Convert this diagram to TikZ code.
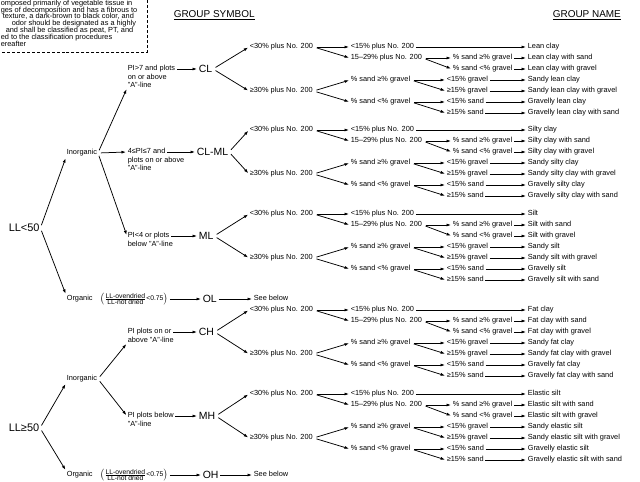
\documentclass[tikz,border=0pt]{standalone}
\usepackage{fontspec}
\setmainfont{Liberation Sans}
\usetikzlibrary{arrows.meta, positioning}

\tikzset{
  lbl/.style={anchor=west, inner sep=0.6bp, text height=5.4bp, text depth=1.5bp,
              font=\fontsize{7.4}{7.8}\selectfont},
  note/.style={anchor=north west, inner sep=0.6bp, align=left,
               font=\fontsize{7.4}{8}\selectfont},
  ratio/.style={anchor=west, inner sep=0.6bp, font=\fontsize{6.8}{7}\selectfont},
  sym/.style={anchor=west, inner sep=0.6bp, font=\fontsize{10.5}{11}\selectfont},
  llbl/.style={anchor=west, inner sep=0.6bp, font=\fontsize{11}{12}\selectfont},
  hdr/.style={anchor=west, inner sep=0.6bp, font=\fontsize{10}{11}\selectfont},
  arr/.style={-{Latex[length=4.5bp, width=3bp]}, line width=0.75bp,
              shorten <=1bp, shorten >=1bp},
  fork/.style={arr, shorten <=3bp}
}

% 30% and 15% splits with the seven group names of one symbol
\newcommand{\namegroup}[9]{%
  \node[lbl] (#1lo) at (249,#2)    {<30\% plus No. 200};
  \node[lbl] (#1hi) at (249,#2+44) {≥30\% plus No. 200};
  \node[lbl] (#1c1) at (350,#2)    {<15\% plus No. 200};
  \node[lbl] (#1c2) at (350,#2+11) {15--29\% plus No. 200};
  \node[lbl] (#1c4) at (350,#2+33) {\% sand ≥\% gravel};
  \node[lbl] (#1c6) at (350,#2+55) {\% sand <\% gravel};
  \node[lbl] (#1d2) at (452,#2+11) {\% sand ≥\% gravel};
  \node[lbl] (#1d3) at (452,#2+22) {\% sand <\% gravel};
  \node[lbl] (#1d4) at (446,#2+33) {<15\% gravel};
  \node[lbl] (#1d5) at (446,#2+44) {≥15\% gravel};
  \node[lbl] (#1d6) at (446,#2+55) {<15\% sand};
  \node[lbl] (#1d7) at (446,#2+66) {≥15\% sand};
  \node[lbl] (#1n1) at (527,#2)    {#3};
  \node[lbl] (#1n2) at (527,#2+11) {#4};
  \node[lbl] (#1n3) at (527,#2+22) {#5};
  \node[lbl] (#1n4) at (527,#2+33) {#6};
  \node[lbl] (#1n5) at (527,#2+44) {#7};
  \node[lbl] (#1n6) at (527,#2+55) {#8};
  \node[lbl] (#1n7) at (527,#2+66) {#9};
  \draw[fork] (#1lo.east) -- (#1c1.west);
  \draw[fork] (#1lo.east) -- (#1c2.west);
  \draw[fork] (#1hi.east) -- (#1c4.west);
  \draw[fork] (#1hi.east) -- (#1c6.west);
  \draw[fork] (#1c2.east) -- (#1d2.west);
  \draw[fork] (#1c2.east) -- (#1d3.west);
  \draw[fork] (#1c4.east) -- (#1d4.west);
  \draw[fork] (#1c4.east) -- (#1d5.west);
  \draw[fork] (#1c6.east) -- (#1d6.west);
  \draw[fork] (#1c6.east) -- (#1d7.west);
  \draw[arr] (#1c1.east) -- (#1n1.west);
  \draw[arr] (#1d2.east) -- (#1n2.west);
  \draw[arr] (#1d3.east) -- (#1n3.west);
  \draw[arr] (#1d4.east) -- (#1n4.west);
  \draw[arr] (#1d5.east) -- (#1n5.west);
  \draw[arr] (#1d6.east) -- (#1n6.west);
  \draw[arr] (#1d7.east) -- (#1n7.west);
}

\begin{document}
\begin{tikzpicture}[x=1bp, y=-1bp]

  \fill[white] (0,0) rectangle (640,482);
  \useasboundingbox (0,0) rectangle (640,482);

  %% peat note, cut at the left
  \node[lbl] (bx1) at (0,3.5)  {omposed primarily of vegetable tissue in};
  \node[lbl] (bx2) at (0,10.3) {ges of decomposition and has a fibrous to};
  \node[lbl] (bx3) at (2,17)   {texture, a dark-brown to black color, and};
  \node[lbl] (bx4) at (11,24)  {odor should be designated as a highly};
  \node[lbl] (bx5) at (5,31)   {and shall be classified as peat, PT, and};
  \node[lbl] (bx6) at (0,38)   {ed to the classification procedures};
  \node[lbl] (bx7) at (0,44.5) {ereafter};
  \draw[densely dashed, line width=0.8bp] (147,0) -- (147,52) -- (0,52);

  %% headings
  \node[hdr] (hsym)  at (173,15) {\underline{GROUP SYMBOL}};
  \node[hdr] (hname) at (552,15) {\underline{GROUP NAME}};

  %% liquid limit
  \node[llbl] (ll1) at (8,228) {LL<50};
  \node[llbl] (ll2) at (8,428) {LL≥50};

  \node[lbl] (inorg1) at (66,153) {Inorganic};
  \node[lbl] (org1)   at (66,299) {Organic};
  \node[lbl] (inorg2) at (66,379) {Inorganic};
  \node[lbl] (org2)   at (66,475) {Organic};

  \draw[fork] (ll1.east) -- (inorg1.south west);
  \draw[fork] (ll1.east) -- (org1.north west);
  \draw[fork] (ll2.east) -- (inorg2.south west);
  \draw[fork] (ll2.east) -- (org2.north west);

  %% plasticity
  \node[lbl] (pi7) at (127,69) {PI>7 and plots};
  \node[note] (pi7b) at (pi7.south west) {on or above\\"A"-line};
  \node[lbl] (pi47) at (127,152) {4≤PI≤7 and};
  \node[note] (pi47b) at (pi47.south west) {plots on or above\\"A"-line};
  \node[lbl] (pi4) at (127,236) {PI<4 or plots};
  \node[note] (pi4b) at (pi4.south west) {below "A"-line};
  \node[lbl] (pich) at (127,332) {PI plots on or};
  \node[note] (pichb) at (pich.south west) {above "A"-line};
  \node[lbl] (pimh) at (127,416) {PI plots below};
  \node[note] (pimhb) at (pimh.south west) {"A"-line};

  \draw[fork] (inorg1.east) -- (pi7b.south west);
  \draw[fork] (inorg1.east) -- (pi47.west);
  \draw[fork] (inorg1.east) -- (pi4.west);
  \draw[fork] (inorg2.east) -- (pichb.south west);
  \draw[fork] (inorg2.east) -- (pimh.west);

  %% group symbols
  \node[sym] (cl)   at (198,69)  {CL};
  \node[sym] (clml) at (196,152) {CL-ML};
  \node[sym] (ml)   at (198,236) {ML};
  \node[sym] (ol)   at (202,299) {OL};
  \node[sym] (ch)   at (198,332) {CH};
  \node[sym] (mh)   at (198,416) {MH};
  \node[sym] (oh)   at (202,475) {OH};

  \draw[arr] (pi7.east)  -- (cl.west);
  \draw[arr] (pi47.east) -- (clml.west);
  \draw[arr] (pi4.east)  -- (ml.west);
  \draw[arr] (pich.east) -- (ch.west);
  \draw[arr] (pimh.east) -- (mh.west);

  %% organic soils
  \node[ratio] (rat1) at (99,299)
       {$\left(\frac{\mbox{LL-ovendried}}{\mbox{LL-not dried}}\mbox{<0.75}\right)$};
  \node[ratio] (rat2) at (99,475)
       {$\left(\frac{\mbox{LL-ovendried}}{\mbox{LL-not dried}}\mbox{<0.75}\right)$};
  \node[lbl] (see1) at (253,299) {See below};
  \node[lbl] (see2) at (253,475) {See below};
  \draw[arr] (rat1.east) -- (ol.west);
  \draw[arr] (rat2.east) -- (oh.west);
  \draw[arr] (ol.east) -- (see1.west);
  \draw[arr] (oh.east) -- (see2.west);

  %% names
  \namegroup{A}{47}{Lean clay}{Lean clay with sand}{Lean clay with gravel}
    {Sandy lean clay}{Sandy lean clay with gravel}{Gravelly lean clay}
    {Gravelly lean clay with sand}
  \namegroup{B}{130}{Silty clay}{Silty clay with sand}{Silty clay with gravel}
    {Sandy silty clay}{Sandy silty clay with gravel}{Gravelly silty clay}
    {Gravelly silty clay with sand}
  \namegroup{C}{214}{Silt}{Silt with sand}{Silt with gravel}
    {Sandy silt}{Sandy silt with gravel}{Gravelly silt}
    {Gravelly silt with sand}
  \namegroup{D}{310}{Fat clay}{Fat clay with sand}{Fat clay with gravel}
    {Sandy fat clay}{Sandy fat clay with gravel}{Gravelly fat clay}
    {Gravelly fat clay with sand}
  \namegroup{E}{394}{Elastic silt}{Elastic silt with sand}{Elastic silt with gravel}
    {Sandy elastic silt}{Sandy elastic silt with gravel}{Gravelly elastic silt}
    {Gravelly elastic silt with sand}

  \draw[fork] (cl.east)   -- (Alo.west);
  \draw[fork] (cl.east)   -- (Ahi.west);
  \draw[fork] (clml.east) -- (Blo.west);
  \draw[fork] (clml.east) -- (Bhi.west);
  \draw[fork] (ml.east)   -- (Clo.west);
  \draw[fork] (ml.east)   -- (Chi.west);
  \draw[fork] (ch.east)   -- (Dlo.west);
  \draw[fork] (ch.east)   -- (Dhi.west);
  \draw[fork] (mh.east)   -- (Elo.west);
  \draw[fork] (mh.east)   -- (Ehi.west);

\end{tikzpicture}
\end{document}
